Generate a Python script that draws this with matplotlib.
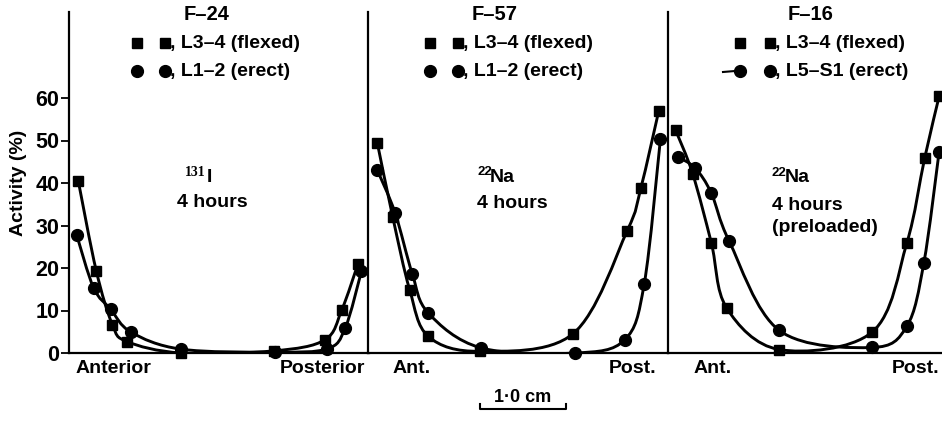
import numpy as np
import matplotlib
matplotlib.use("Agg")
import matplotlib.pyplot as plt
from matplotlib.path import Path
from matplotlib.patches import PathPatch
from matplotlib.lines import Line2D

plt.rcParams['font.family'] = ['Liberation Sans', 'DejaVu Sans']
plt.rcParams['font.weight'] = 'bold'

# positions across the disc (cm from the left edge of each panel), activity (%)
f24_sq_x = [0.11, 0.32, 0.51, 0.68, 1.32, 2.41, 3.01, 3.21, 3.40]
f24_sq_y = [40.4, 19.4, 6.7, 2.7, 0.0, 0.5, 3.1, 10.2, 21.0]
f24_ci_x = [0.09, 0.29, 0.49, 0.73, 1.32, 2.42, 3.04, 3.25, 3.44]
f24_ci_y = [27.8, 15.3, 10.3, 4.9, 0.9, 0.2, 1.0, 5.9, 19.2]

f57_sq_x = [0.11, 0.29, 0.49, 0.71, 1.32, 2.41, 3.05, 3.21, 3.42]
f57_sq_y = [49.4, 32.1, 14.9, 3.9, 0.4, 4.5, 28.8, 38.8, 56.9]
f57_ci_x = [0.11, 0.32, 0.52, 0.71, 1.33, 2.44, 3.02, 3.25, 3.44]
f57_ci_y = [43.0, 32.9, 18.7, 9.4, 1.2, 0.0, 3.1, 16.3, 50.3]

f16_sq_x = [0.09, 0.29, 0.51, 0.69, 1.31, 2.40, 2.81, 3.02, 3.19]
f16_sq_y = [52.4, 42.2, 25.9, 10.6, 0.8, 4.9, 25.9, 45.9, 60.4]
f16_ci_x = [0.12, 0.32, 0.51, 0.72, 1.31, 2.40, 2.81, 3.01, 3.19]
f16_ci_y = [46.1, 43.5, 37.6, 26.3, 5.3, 1.3, 6.3, 21.2, 47.4]

titles = ['F\u201324', 'F\u201357', 'F\u201316']
erect_labels = [', L1\u20132 (erect)', ', L1\u20132 (erect)', ', L5\u2013S1 (erect)']
ends = [('Anterior', 0.52, 'Posterior', 2.98), ('Ant.', 0.51, 'Post.', 3.11), ('Ant.', 0.52, 'Post.', 2.91)]
yticks = [0, 10, 20, 30, 40, 50, 60]

W, H = 942, 425
fig = plt.figure(figsize=(W / 100, H / 100), dpi=100)


def px(x, y):
    return x / W, 1 - y / H


def smooth(ax, xs, ys):
    # catmull-rom through the points, drawn as bezier path
    P = np.column_stack([xs, ys])
    verts = [P[0]]
    codes = [Path.MOVETO]
    n = len(P)
    for i in range(n - 1):
        p0 = P[max(i - 1, 0)]
        p1 = P[i]
        p2 = P[i + 1]
        p3 = P[min(i + 2, n - 1)]
        verts += [p1 + (p2 - p0) / 6, p2 - (p3 - p1) / 6, p2]
        codes += [Path.CURVE4] * 3
    ax.add_patch(PathPatch(Path(verts, codes), fill=False, lw=2.1, color='black', zorder=2))


lefts = [69, 368, 668]
data = [(f24_sq_x, f24_sq_y, f24_ci_x, f24_ci_y),
        (f57_sq_x, f57_sq_y, f57_ci_x, f57_ci_y),
        (f16_sq_x, f16_sq_y, f16_ci_x, f16_ci_y)]

for k in range(3):
    l = lefts[k]
    ax = fig.add_axes([l / W, 1 - 353 / H, 300 / W, 341 / H])
    ax.set_xlim(0, 300 / 85)
    ax.set_ylim(0, 341 / 4.25)
    for s in ['top', 'right']:
        ax.spines[s].set_visible(False)
    for s in ['left', 'bottom']:
        ax.spines[s].set_linewidth(1.6)
    ax.set_xticks([])
    if k == 0:
        ax.set_yticks(yticks)
        ax.tick_params(axis='y', length=6, width=1.3, pad=1, labelsize=15.5)
        for t in ax.get_yticklabels():
            t.set_fontweight('bold')
        ax.set_ylabel('Activity (%)', fontsize=14, fontweight='bold', labelpad=6)
    else:
        ax.set_yticks([])
    sx, sy, cx, cy = data[k]
    smooth(ax, sx, sy)
    smooth(ax, cx, cy)
    ax.plot(sx, sy, 's', ms=6.5, color='black', zorder=3, clip_on=False)
    ax.plot(cx, cy, 'o', ms=8.5, color='black', zorder=3, clip_on=False)

    a, ax_a, p, ax_p = ends[k]
    tr = ax.get_xaxis_transform()
    ax.text(ax_a, -0.045, a, transform=tr, ha='center', va='center', fontsize=14, fontweight='bold')
    ax.text(ax_p, -0.045, p, transform=tr, ha='center', va='center', fontsize=14, fontweight='bold')

# titles and legends
title_x = [207, 495, 811]
mk_x = [(137, 165), (430, 458), (740, 770)]
for k in range(3):
    fig.text(*px(title_x[k], 15), titles[k], ha='center', va='center', fontsize=14.5, fontweight='bold')
    m1, m2 = mk_x[k]
    for m in (m1, m2):
        fig.add_artist(Line2D([m / W], [1 - 43 / H], marker='s', ms=6.5, color='black', transform=fig.transFigure))
        fig.add_artist(Line2D([m / W], [1 - 71 / H], marker='o', ms=8.5, color='black', transform=fig.transFigure))
    fig.text(*px(m2 + 5, 43), ', L3\u20134 (flexed)', ha='left', va='center', fontsize=14, fontweight='bold')
    fig.text(*px(m2 + 5, 71), erect_labels[k], ha='left', va='center', fontsize=14, fontweight='bold')
fig.add_artist(Line2D([723 / W, 735 / W], [1 - 72 / H, 1 - 71 / H], lw=1.5, color='black', transform=fig.transFigure))

# isotope notes
fig.text(*px(185, 172), '131', family='Liberation Serif', fontsize=10, fontweight='bold', ha='left', va='center')
fig.text(*px(207, 177), 'I', fontsize=14, fontweight='bold', ha='left', va='center')
fig.text(*px(177, 202), '4 hours', fontsize=14, fontweight='bold', ha='left', va='center')

fig.text(*px(477, 172), '22', fontsize=9.5, fontweight='bold', ha='left', va='center')
fig.text(*px(490, 177), 'Na', fontsize=14, fontweight='bold', ha='left', va='center')
fig.text(*px(477, 203), '4 hours', fontsize=14, fontweight='bold', ha='left', va='center')

fig.text(*px(772, 173), '22', fontsize=9.5, fontweight='bold', ha='left', va='center')
fig.text(*px(785, 178), 'Na', fontsize=14, fontweight='bold', ha='left', va='center')
fig.text(*px(772, 205), '4 hours', fontsize=14, fontweight='bold', ha='left', va='center')
fig.text(*px(772, 228), '(preloaded)', fontsize=14, fontweight='bold', ha='left', va='center')

# scale bar
bx = [480 / W, 480 / W, 566 / W, 566 / W]
by = [1 - 404 / H, 1 - 409 / H, 1 - 409 / H, 1 - 404 / H]
fig.add_artist(Line2D(bx, by, lw=1.5, color='black', transform=fig.transFigure))
fig.text(*px(523, 397), '1\u00b70 cm', ha='center', va='center', fontsize=13, fontweight='bold')

fig.savefig('out.png', dpi=100)
